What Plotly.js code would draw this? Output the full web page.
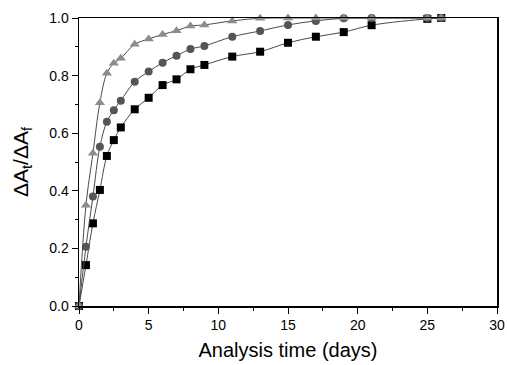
<!DOCTYPE html>
<html><head><meta charset="utf-8">
<script src="https://cdn.plot.ly/plotly-3.0.1.min.js"></script>
<style>html,body{margin:0;padding:0;background:#fff}</style>
</head><body>
<div id="chart" style="width:507px;height:365px"></div>
<script>
var days = [0, 0.5, 1, 1.5, 2, 2.5, 3, 4, 5, 6, 7, 8, 9, 11, 13, 15, 17, 19, 21, 25, 26];
var triangleVals = [0, 0.35, 0.53, 0.706, 0.808, 0.843, 0.86, 0.909, 0.927, 0.943, 0.956, 0.972, 0.976, 0.99, 0.999, 1.0, 1.0, 1.0, 1.0, 1.0, 1.0];
var circleVals = [0, 0.206, 0.38, 0.553, 0.64, 0.68, 0.713, 0.779, 0.814, 0.845, 0.869, 0.892, 0.903, 0.935, 0.955, 0.976, 0.99, 0.999, 1.0, 1.0, 1.0];
var squareVals = [0, 0.142, 0.287, 0.403, 0.521, 0.576, 0.62, 0.683, 0.723, 0.767, 0.787, 0.822, 0.837, 0.866, 0.883, 0.914, 0.935, 0.951, 0.975, 0.997, 1.0];
var xTickVals = [0, 5, 10, 15, 20, 25, 30];
var yTickVals = [0, 0.2, 0.4, 0.6, 0.8, 1.0];
var yTickText = ['0.0', '0.2', '0.4', '0.6', '0.8', '1.0'];

function series(y, sym, col) {
  return {
    x: days, y: y, type: 'scatter', mode: 'lines+markers',
    line: {shape: 'spline', smoothing: 1, color: '#4a4a4a', width: 1},
    marker: {symbol: sym, size: sym === 'triangle-up' ? 9 : 8, color: col, line: {width: 0}},
    cliponaxis: false, showlegend: false
  };
}
var data = [
  series(squareVals, 'square', '#000000'),
  series(circleVals, 'circle', '#555555'),
  series(triangleVals, 'triangle-up', '#8c8c8c')
];
var font = {family: 'Liberation Sans, Arial, sans-serif', color: '#000'};
var layout = {
  width: 507, height: 365,
  margin: {l: 79, r: 10, t: 18, b: 59},
  paper_bgcolor: '#fff', plot_bgcolor: '#fff',
  font: font,
  xaxis: {
    range: [0, 30], tickvals: xTickVals, ticks: 'outside', ticklen: 6, tickwidth: 1,
    tickcolor: '#000', showgrid: false, zeroline: false,
    showline: true, linecolor: '#000', linewidth: 1.5, mirror: true,
    tickfont: {family: font.family, size: 14, color: '#000'},
    minor: {dtick: 2.5, tick0: 0, ticks: 'outside', ticklen: 3, tickcolor: '#000', showgrid: false},
    title: {text: 'Analysis time (days)', font: {family: font.family, size: 20, color: '#000'}, standoff: 10}
  },
  yaxis: {
    range: [0, 1], tickvals: yTickVals, ticktext: yTickText, ticks: 'outside', ticklen: 6, tickwidth: 1,
    tickcolor: '#000', showgrid: false, zeroline: false,
    showline: true, linecolor: '#000', linewidth: 1.5, mirror: true,
    tickfont: {family: font.family, size: 14, color: '#000'},
    minor: {dtick: 0.1, tick0: 0, ticks: 'outside', ticklen: 3, tickcolor: '#000', showgrid: false},
    title: {text: 'ΔA<sub>t</sub>/ΔA<sub>f</sub>', font: {family: font.family, size: 21, color: '#000'}, standoff: 15}
  }
};
Plotly.newPlot('chart', data, layout, {staticPlot: true, displayModeBar: false});
</script>
</body></html>
